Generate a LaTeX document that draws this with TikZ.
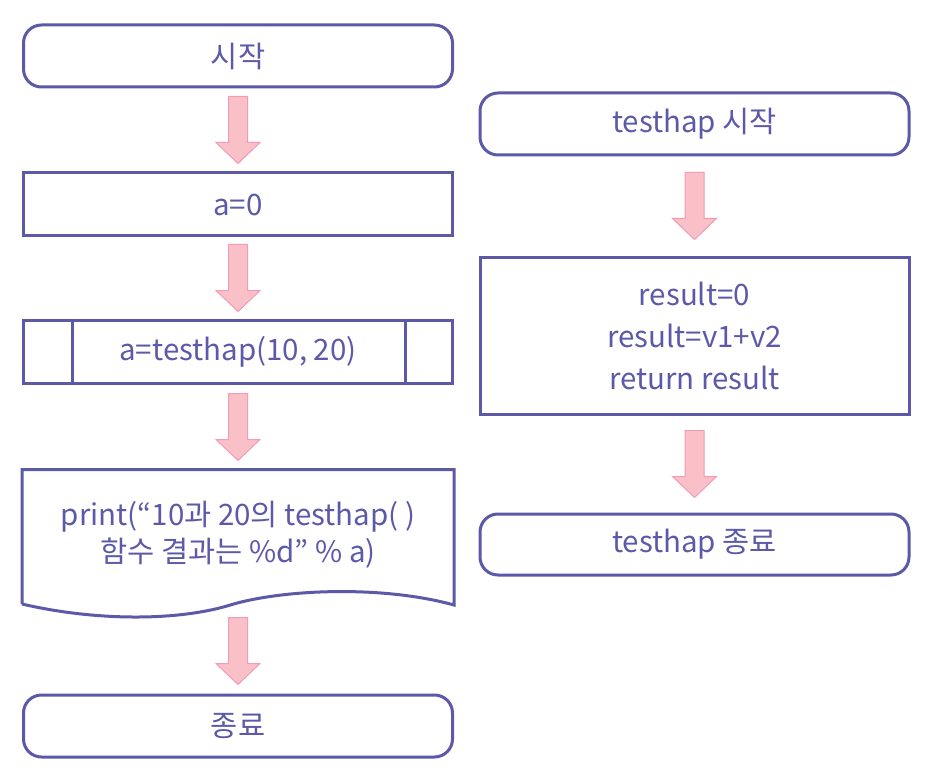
\documentclass[tikz,border=0pt]{standalone}
\usepackage{fontspec}
\setmainfont{Noto Sans CJK KR}
\usetikzlibrary{calc}
\definecolor{boxc}{HTML}{5C5AA8}
\definecolor{arrf}{HTML}{F9C1C7}
\definecolor{arrd}{HTML}{F29AB6}
\newcommand\blockarrow[2]{%
  \coordinate (m) at ($(#1.south)!0.5!(#2.north)$);
  \filldraw[fill=arrf, draw=arrd, line width=1pt, line join=miter]
    ($(m)+(-9.5,-33.5)$) -- ($(m)+(9.5,-33.5)$) -- ($(m)+(9.5,12.5)$) --
    ($(m)+(22,12.5)$) -- ($(m)+(0,33.5)$) -- ($(m)+(-22,12.5)$) --
    ($(m)+(-9.5,12.5)$) -- cycle;}
\begin{document}
\begin{tikzpicture}[x=1pt,y=-1pt,
  base/.style={line width=3pt, text=boxc, font=\fontsize{29.5}{42}\selectfont,
    align=center, inner sep=0pt, anchor=north west},
  term/.style={base, draw=boxc, rounded corners=18pt},
  proc/.style={base, draw=boxc},
  plain/.style={base, draw=none},
  lbl/.style={text=boxc, font=\fontsize{29.5}{37}\selectfont, align=center, inner sep=0pt}]
\useasboundingbox[fill=white] (0,0) rectangle (930,781);

% left column
\node[term, minimum width=429pt, minimum height=62pt] (start) at (22,23.5) {시작};
\node[proc, minimum width=429pt, minimum height=63pt] (init) at (22,171.5) {a=0};
\node[proc, minimum width=429pt, minimum height=63pt] (call) at (22,318.5) {a=testhap(10, 20)};
\draw[boxc, line width=3pt] ($(call.north west)+(50,0)$) -- ($(call.south west)+(50,0)$);
\draw[boxc, line width=3pt] ($(call.north east)+(-49,0)$) -- ($(call.south east)+(-49,0)$);
\node[plain, minimum width=429pt, minimum height=136pt] (doc) at (22,469.5) {};
\draw[boxc, line width=3pt, line join=miter]
  ($(doc.south west)+(0,-4.5)$) -- (doc.north west) -- (doc.north east) -- ($(doc.south east)+(0,-3.5)$)
  .. controls ($(doc.south east)+(-72,-23.5)$) and ($(doc.south west)+(258,-19.5)$) .. ($(doc.south west)+(205,-2.5)$)
  .. controls ($(doc.south west)+(153,12.5)$) and ($(doc.south west)+(73,12.5)$) .. ($(doc.south west)+(0,-4.5)$);
\node[lbl] (doctext) at ($(doc.center)+(0,-4)$) {print(“10과 20의 testhap( )\\함수 결과는 \%d” \% a)};
\node[term, minimum width=429pt, minimum height=62pt] (stop) at (22,693.5) {종료};

% right column
\node[term, minimum width=429pt, minimum height=62pt] (tstart) at (478.5,91.5) {testhap 시작};
\node[proc, minimum width=429pt, minimum height=157pt] (tproc) at (478.5,255.5) {result=0\\result=v1+v2\\return result};
\node[term, minimum width=429pt, minimum height=61pt] (tstop) at (478.5,512.5) {testhap 종료};

% arrows
\blockarrow{start}{init}
\blockarrow{init}{call}
\blockarrow{call}{doc}
\blockarrow{doc}{stop}
\blockarrow{tstart}{tproc}
\blockarrow{tproc}{tstop}
\end{tikzpicture}
\end{document}
